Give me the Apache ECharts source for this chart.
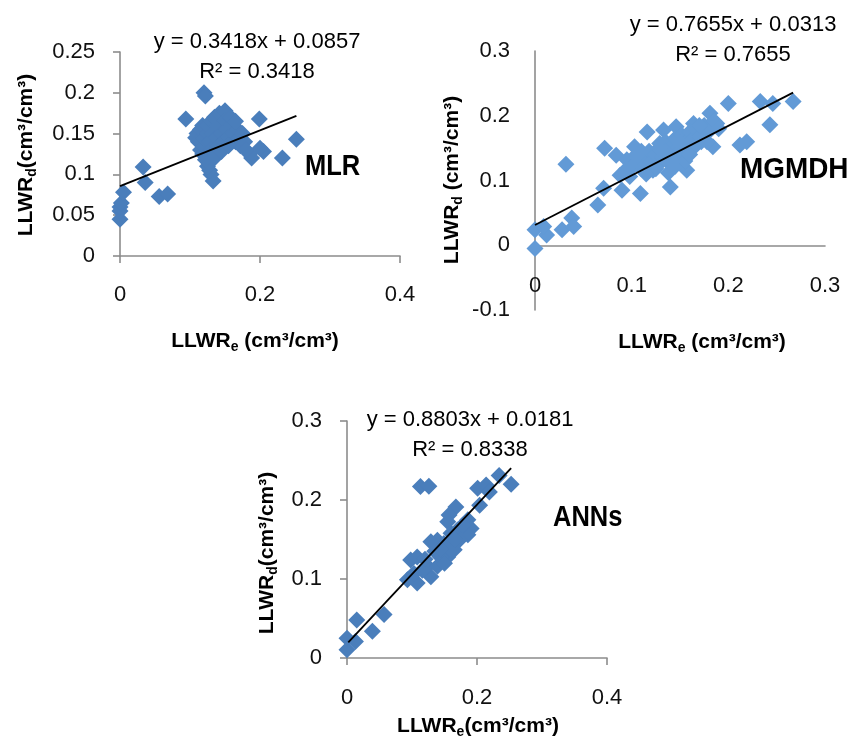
<!DOCTYPE html>
<html>
<head>
<meta charset="utf-8">
<script src="https://cdn.jsdelivr.net/npm/echarts@6/dist/echarts.min.js"></script>
<style>html,body{margin:0;padding:0;background:#fff;}#c{width:852px;height:737px;}</style>
</head>
<body>
<div id="c"></div>
<script>
// ---------- DATA ----------
var mlrPoints = [
  [0.000,0.045],[0.000,0.055],[0.000,0.060],[0.002,0.065],[0.005,0.078],
  [0.033,0.109],[0.036,0.090],[0.056,0.073],[0.068,0.076],
  [0.094,0.168],[0.120,0.200],[0.122,0.196],[0.199,0.168],[0.252,0.143],[0.232,0.120],
  [0.205,0.128],[0.200,0.132],[0.188,0.120],[0.185,0.125],
  [0.133,0.092],[0.130,0.100],[0.128,0.105],[0.125,0.110],
  [0.108,0.145],[0.110,0.150],[0.112,0.140],[0.115,0.130],[0.115,0.155],[0.118,0.125],
  [0.118,0.160],[0.120,0.135],[0.120,0.145],[0.122,0.118],[0.125,0.150],[0.125,0.160],
  [0.128,0.140],[0.130,0.130],[0.130,0.165],[0.132,0.150],[0.135,0.120],[0.135,0.170],
  [0.138,0.145],[0.140,0.135],[0.140,0.160],[0.142,0.175],[0.145,0.150],[0.148,0.140],
  [0.150,0.178],[0.150,0.165],[0.152,0.155],[0.155,0.145],[0.158,0.170],[0.160,0.160],
  [0.162,0.150],[0.165,0.140],[0.168,0.155],[0.170,0.145],[0.172,0.135],[0.175,0.150],
  [0.178,0.140],[0.180,0.130],[0.165,0.165],[0.145,0.128],[0.155,0.135]
];
var mgmdhPoints = [
  [0.000,-0.005],[0.000,0.024],[0.012,0.016],[0.009,0.029],[0.028,0.024],[0.038,0.042],[0.040,0.029],
  [0.032,0.125],[0.065,0.062],[0.071,0.088],[0.072,0.150],[0.084,0.139],[0.090,0.085],
  [0.095,0.132],[0.103,0.152],[0.109,0.080],[0.116,0.175],[0.098,0.106],[0.088,0.108],
  [0.129,0.157],[0.133,0.178],[0.140,0.090],[0.146,0.183],[0.122,0.137],[0.122,0.116],
  [0.150,0.132],[0.157,0.116],[0.164,0.188],[0.181,0.204],[0.184,0.152],[0.178,0.173],
  [0.188,0.188],[0.200,0.219],[0.212,0.155],[0.219,0.160],[0.233,0.222],[0.243,0.186],
  [0.246,0.219],[0.267,0.222],
  [0.100,0.120],[0.105,0.128],[0.110,0.118],[0.112,0.135],[0.115,0.125],[0.118,0.145],
  [0.120,0.128],[0.125,0.140],[0.128,0.125],[0.130,0.148],[0.132,0.135],[0.135,0.160],
  [0.138,0.128],[0.140,0.150],[0.142,0.140],[0.145,0.165],[0.148,0.150],[0.150,0.145],
  [0.152,0.170],[0.155,0.158],[0.158,0.148],[0.160,0.175],[0.162,0.162],[0.165,0.152],
  [0.168,0.178],[0.170,0.168],[0.172,0.160],[0.175,0.185],[0.180,0.178],[0.185,0.192],
  [0.110,0.145],[0.138,0.112],[0.145,0.122],[0.155,0.130],
  [0.095,0.118],[0.105,0.140],[0.125,0.118],[0.135,0.145],[0.150,0.158],[0.160,0.140],
  [0.170,0.185],[0.178,0.160],[0.190,0.180],[0.115,0.110],[0.128,0.150],[0.142,0.128]
];
var annPoints = [
  [0.000,0.0105],[0.000,0.025],[0.013,0.021],[0.015,0.048],[0.039,0.034],[0.057,0.055],
  [0.113,0.217],[0.126,0.2175],[0.234,0.231],[0.2525,0.220],[0.201,0.215],[0.214,0.219],
  [0.219,0.210],[0.204,0.1935],[0.1675,0.191],[0.157,0.181],[0.155,0.1725],[0.186,0.175],
  [0.191,0.164],[0.186,0.156],[0.1725,0.149],[0.149,0.145],[0.139,0.149],[0.129,0.147],
  [0.098,0.124],[0.108,0.128],[0.093,0.099],[0.108,0.095],[0.129,0.103],[0.124,0.116],
  [0.139,0.116],[0.155,0.128],[0.165,0.137],[0.144,0.128],[0.116,0.111],[0.103,0.107],
  [0.170,0.162],[0.160,0.158],[0.178,0.168],[0.150,0.120],[0.160,0.140],[0.135,0.135],
  [0.120,0.125],[0.145,0.138],[0.165,0.150]
];
var mlrTrend = [[0.000,0.0857],[0.252,0.1718]];
var mgmdhTrend = [[0.000,0.0313],[0.267,0.2357]];
var annTrend = [[0.002,0.0199],[0.2525,0.2404]];

var eqTexts = ['y = 0.3418x + 0.0857','y = 0.7655x + 0.0313','y = 0.8803x + 0.0181'];
var r2Texts = ['R² = 0.3418','R² = 0.7655','R² = 0.8338'];
var modelNames = ['MLR','MGMDH','ANNs'];

// ---------- STYLE ----------
var FF = '"Liberation Sans", Arial, sans-serif';
var AX = '#8c8c8c';
function fmt(v){ return String(+v.toFixed(2)); }
function xAx(idx, min, max, itv, ticks, margin, offset){
  return {gridIndex: idx, type:'value', min:min, max:max, interval:itv, offset: offset||0,
    axisLine:{show:true, onZero:false, lineStyle:{color:AX, width:1.6}},
    axisTick:{show:ticks, length:7, lineStyle:{color:AX, width:1.6}},
    splitLine:{show:false},
    axisLabel:{margin:margin, fontSize:22, fontFamily:FF, color:'#111', formatter:fmt}};
}
function yAx(idx, min, max, itv, ticks){
  return {gridIndex: idx, type:'value', min:min, max:max, interval:itv,
    axisLine:{show:true, onZero:false, lineStyle:{color:AX, width:1.6}},
    axisTick:{show:ticks, length:7, lineStyle:{color:AX, width:1.6}},
    splitLine:{show:false},
    axisLabel:{margin:25, fontSize:22, fontFamily:FF, color:'#111', formatter:fmt}};
}
function scat(idx, data, color){
  return {type:'scatter', xAxisIndex:idx, yAxisIndex:idx, data:data, symbol:'diamond',
    symbolSize:17, itemStyle:{color:color, opacity:1}, z:2, silent:true};
}
function trend(idx, data){
  return {type:'line', xAxisIndex:idx, yAxisIndex:idx, data:data, showSymbol:false,
    lineStyle:{color:'#000', width:1.8}, z:5, silent:true};
}
var richTitle = {
  a:{fontSize:21, fontWeight:'bold', fontFamily:FF, color:'#000', lineHeight:26, verticalAlign:'middle'},
  s:{fontSize:14, fontWeight:'bold', fontFamily:FF, color:'#000', lineHeight:12, verticalAlign:'bottom'}
};
function title(x, y, main, sub, rest, rot){
  return {type:'text', x:x, y:y, rotation: rot ? Math.PI/2 : 0,
    style:{text:'{a|'+main+'}{s|'+sub+'}{a|'+rest+'}', rich:richTitle,
      align:'center', verticalAlign:'middle'}, z:10};
}
function txt(x, y, t, size){
  return {type:'text', x:x, y:y, style:{text:t, fontSize:size,
    fontFamily:FF, fill:'#000', align:'center', verticalAlign:'middle'}, z:10};
}
function tag(x, y, t, sx){
  return {type:'text', x:x, y:y, scaleX:sx, style:{text:t, fontSize:30, fontWeight:'bold',
    fontFamily:FF, fill:'#000', align:'left', verticalAlign:'middle'}, z:10};
}

var chart = echarts.init(document.getElementById('c'), null, {renderer:'canvas'});
chart.setOption({
  animation:false,
  backgroundColor:'#fff',
  grid:[
    {left:120, top:52, width:280, height:204},
    {left:535, top:51, width:290, height:259},
    {left:347, top:421, width:260, height:237}
  ],
  xAxis:[ xAx(0,0,0.4,0.2,true,28), xAx(1,0,0.3,0.1,false,30,-64.75), xAx(2,0,0.4,0.2,true,29) ],
  yAxis:[ yAx(0,0,0.25,0.05,true), yAx(1,-0.1,0.3,0.1,false), yAx(2,0,0.3,0.1,true) ],
  series:[
    scat(0, mlrPoints, '#4a7ebb'), trend(0, mlrTrend),
    scat(1, mgmdhPoints, '#629ad6'), trend(1, mgmdhTrend),
    scat(2, annPoints, '#4a7ebb'), trend(2, annTrend)
  ],
  graphic:[
    txt(257, 42, eqTexts[0], 22), txt(257, 72, r2Texts[0], 22),
    txt(733, 25, eqTexts[1], 22), txt(733, 55, r2Texts[1], 22),
    txt(470, 420, eqTexts[2], 22), txt(470, 450, r2Texts[2], 22),
    tag(305, 167, modelNames[0], 0.85),
    tag(740, 170, modelNames[1], 0.93),
    tag(553, 518, modelNames[2], 0.85),
    title(26, 155, 'LLWR', 'd', '(cm³/cm³)', true),
    title(255, 341, 'LLWR', 'e', ' (cm³/cm³)', false),
    title(452, 180, 'LLWR', 'd', ' (cm³/cm³)', true),
    title(702, 342, 'LLWR', 'e', ' (cm³/cm³)', false),
    title(267, 553, 'LLWR', 'd', '(cm³/cm³)', true),
    title(478, 726, 'LLWR', 'e', '(cm³/cm³)', false)
  ]
});
</script>
</body>
</html>
